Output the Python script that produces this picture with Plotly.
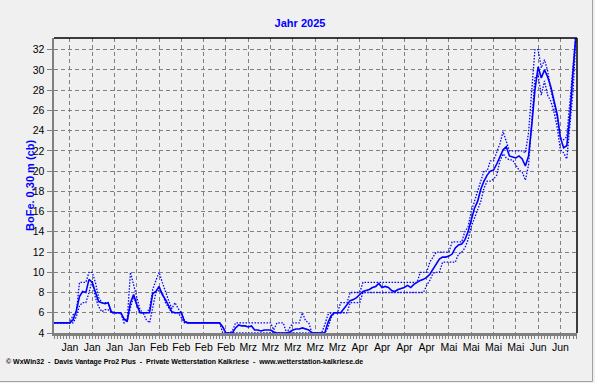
import pandas as pd
import plotly.graph_objects as go

# ---- data (daily values, 2025-01-01 .. 2025-06-14) ----
start_date = "2025-01-01"

mean_vals = [
    5, 5, 5, 5, 5, 5,
    5.3, 6.2, 7.6, 8.1, 8.0,
    9.3, 9.0, 8.0, 7.1, 7.0,
    6.9, 7.0, 6.1, 6, 6,
    6, 5.4, 5.2, 7.0, 7.8,
    6.8, 6.0, 6, 6, 6.0,
    7.9, 8.1, 8.6, 7.8, 7.3,
    6.7, 6.1, 6, 6, 6,
    5.1, 5, 5, 5, 5,
    5, 5, 5, 5, 5,
    5, 5, 4.6, 4, 4,
    4, 4.5, 4.8, 4.7, 4.7,
    4.6, 4.7, 4.3, 4.3, 4.2,
    4.3, 4.3, 4.3, 4.1, 4.0,
    4.0, 4.0, 4.0, 4.1, 4.3,
    4.4, 4.4, 4.5, 4.4, 4.3,
    4.0, 4, 4, 4, 4,
    5.0, 5.7, 6.0, 6.0, 6.0,
    6.4, 6.8, 7.2, 7.3, 7.5,
    7.8, 8.1, 8.2, 8.3, 8.5,
    8.6, 8.9, 8.5, 8.6, 8.5,
    8.2, 8.1, 8.3, 8.4, 8.5,
    8.7, 8.5, 8.8, 9.0, 9.2,
    9.3, 9.5, 9.8, 10.3, 10.8,
    11.3, 11.5, 11.5, 11.6, 11.8,
    12.4, 12.7, 12.8, 13.2, 14.0,
    15.2, 16.3, 17.0, 18.2, 19.0,
    19.6, 20.0, 20.1, 20.7, 21.5,
    22.1, 22.4, 21.5, 21.4, 21.3,
    21.5, 21.2, 20.5, 21.5, 24.5,
    28.0, 30.3, 29.2, 30.0, 29.3,
    28.3, 27.0, 25.6, 23.3, 22.3,
    22.5, 25.5, 30.0, 34.0,
]

max_vals = [
    5, 5, 5, 5, 5, 5,
    5.8, 6.0, 9.0, 9.0, 9.0,
    10, 10, 9.0, 7.5, 7.0,
    7.0, 7.0, 6, 6, 6,
    6, 5.2, 5.3, 10, 8.8,
    7.5, 6.3, 6, 6, 6.4,
    8.3, 9.2, 10, 9.0, 8.0,
    7.2, 6.4, 7.0, 6.4, 6,
    5.2, 5, 5, 5, 5,
    5, 5, 5, 5, 5,
    5, 5, 4.5, 4, 4,
    4.2, 5, 5, 5, 5,
    5, 5, 5, 5, 5,
    5, 5, 5, 4.3, 5,
    5, 5, 4, 4.5, 5,
    5, 5, 6, 5.2, 5,
    4, 4, 4, 4, 4.8,
    5.8, 6, 6, 6, 7,
    7, 7, 8, 8, 8,
    8, 9, 9, 9, 9,
    9, 9, 9, 9, 9,
    9, 9, 9, 9, 9,
    9, 9, 9, 9, 10,
    10, 10, 11, 11.5, 12,
    12, 12, 12, 12, 13,
    13, 13, 13, 14, 14.5,
    16, 17, 18, 19, 20,
    20, 21, 21, 21.8, 22.7,
    23.9, 22.9, 22, 22, 22,
    22, 22, 21.8, 23.8, 28,
    32, 32, 30.2, 31, 29.9,
    28, 26.6, 25.2, 23.3, 23.1,
    23.4, 27, 31, 34,
]

min_vals = [
    5, 5, 5, 5, 5, 5,
    5, 5.6, 6.7, 7, 7,
    8.0, 9.2, 7.5, 6.6, 6.1,
    6.3, 6.3, 6, 6, 6,
    6, 5.0, 5.2, 6.5, 7.6,
    6.8, 6.0, 6, 5.3, 5,
    6.5, 8.0, 8.2, 8.0, 7.0,
    6.5, 6.0, 6, 6, 5.5,
    5, 5, 5, 5, 5,
    5, 5, 5, 5, 5,
    5, 5, 4, 4, 4,
    4, 4, 4, 4, 4,
    4, 4, 4, 4, 4,
    4, 4, 4, 4, 4,
    4, 4, 4, 4, 4,
    4, 4, 4, 4, 4,
    4, 4, 4, 4, 4,
    4.5, 5.5, 6, 6, 6,
    6, 6, 7, 7, 7,
    7, 8, 8, 8, 8,
    8, 8, 8, 8, 8,
    8, 8, 8, 8, 8,
    8, 8, 8, 8, 8,
    8, 8.7, 9.2, 9.9, 10,
    10, 11, 11, 11, 11,
    11, 11.8, 12, 12.4, 13.2,
    14.5, 15.3, 16.3, 17, 18.3,
    19, 19, 19.2, 19.6, 21,
    21.7, 21.3, 21.1, 21.1, 20.6,
    20.1, 19.9, 19.1, 20.6, 25,
    29.2, 29.5, 27.5, 28.9, 27.5,
    26.9, 25.8, 24.3, 22.1, 21.8,
    21.2, 24.6, 28, 34,
]

tick_start = "2025-01-06"
tick_text = ["Jan", "Jan", "Jan", "Jan", "Feb", "Feb", "Feb", "Feb",
             "Mrz", "Mrz", "Mrz", "Mrz", "Mrz", "Apr", "Apr", "Apr", "Apr",
             "Mai", "Mai", "Mai", "Mai", "Jun", "Jun"]
y_ticks = list(range(4, 33, 2))

title_text = "Jahr 2025"
y_title = "BoFe. 0,30 m (cb)"
footer_text = ("© WxWin32  -  Davis Vantage Pro2 Plus  -  Private Wetterstation Kalkriese"
               "  -  www.wetterstation-kalkriese.de")

dates = pd.date_range(start_date, periods=len(mean_vals), freq="D")
tick_dates = pd.date_range(tick_start, periods=len(tick_text), freq="7D")

BLUE = "#0000FF"
GRID = "#808080"
BG = "#F0F0F0"
FONT = "Liberation Sans, Arial, sans-serif"

fig = go.Figure()
fig.add_trace(go.Scatter(x=dates, y=max_vals, mode="lines",
                         line=dict(color=BLUE, width=1.3, dash="1.5px,1.5px"),
                         hoverinfo="skip"))
fig.add_trace(go.Scatter(x=dates, y=min_vals, mode="lines",
                         line=dict(color=BLUE, width=1.3, dash="1.5px,1.5px"),
                         hoverinfo="skip"))
fig.add_trace(go.Scatter(x=dates, y=mean_vals, mode="lines",
                         line=dict(color=BLUE, width=1.6)))

L, R, T, B = 54, 18, 38, 50
W, H = 595, 383
pw, ph = W - L - R, H - T - B

def px_x(x):
    return (x - L) / pw

def px_y(y):
    return (H - B - y) / ph

fig.update_layout(
    width=W, height=H,
    margin=dict(l=L, r=R, t=T, b=B, autoexpand=False),
    paper_bgcolor=BG, plot_bgcolor=BG,
    showlegend=False,
    font=dict(family=FONT, size=11, color="black"),
    title=dict(text="<b>%s</b>" % title_text, x=300 / W, xanchor="center",
               y=1 - 23 / H, yanchor="middle",
               font=dict(family=FONT, size=11, color=BLUE)),
    xaxis=dict(
        type="date", automargin=False,
        range=["2025-01-01", "2025-06-14 05:00"],
        tickvals=tick_dates, ticktext=tick_text,
        showgrid=True, gridcolor=GRID, gridwidth=1, griddash="4px,3px",
        ticks="outside", ticklen=3, tickcolor=GRID, tickwidth=1,
        minor=dict(dtick=86400000, ticks="outside", ticklen=3,
                   tickcolor=GRID, tickwidth=1, showgrid=False),
        showline=True, linecolor=GRID, linewidth=2.5,
        zeroline=False, fixedrange=True,
        tickfont=dict(family=FONT, size=10.5, color="black"),
    ),
    yaxis=dict(
        automargin=False,
        range=[4, 4 + ph / 10.12],
        tickvals=y_ticks,
        showgrid=True, gridcolor=GRID, gridwidth=1, griddash="4px,3px",
        ticks="outside", ticklen=5, tickcolor=GRID, tickwidth=1,
        showline=True, linecolor=GRID, linewidth=2.5,
        zeroline=False, fixedrange=True,
        tickfont=dict(family=FONT, size=10.5, color="black"),
    ),
    shapes=[
        dict(type="line", xref="paper", yref="paper", x0=0, x1=1, y0=1, y1=1,
             line=dict(color="black", width=1.5)),
        dict(type="line", xref="paper", yref="paper", x0=1, x1=1, y0=0, y1=1,
             line=dict(color="black", width=1.5)),
        dict(type="line", xref="paper", yref="paper",
             x0=px_x(0), x1=px_x(592.5), y0=px_y(381.5), y1=px_y(381.5),
             line=dict(color="#A0A0A0", width=1)),
        dict(type="line", xref="paper", yref="paper",
             x0=px_x(592.5), x1=px_x(592.5), y0=px_y(0), y1=px_y(381.5),
             line=dict(color="#A0A0A0", width=1)),
    ],
    annotations=[
        dict(text="<b>%s</b>" % y_title, xref="paper", yref="paper",
             x=px_x(29.5), y=0.5, xanchor="center", yanchor="middle",
             textangle=-90, showarrow=False,
             font=dict(family=FONT, size=11, color=BLUE)),
        dict(text="<b>%s</b>" % footer_text, xref="paper", yref="paper",
             x=px_x(4), y=px_y(362), xanchor="left", yanchor="middle",
             showarrow=False,
             font=dict(family=FONT, size=7, color="black")),
    ],
)

fig.write_html("out.html",
               config=dict(displayModeBar=False, staticPlot=True),
               post_script="document.body.style.margin='0';"
                           "document.body.style.padding='0';")
